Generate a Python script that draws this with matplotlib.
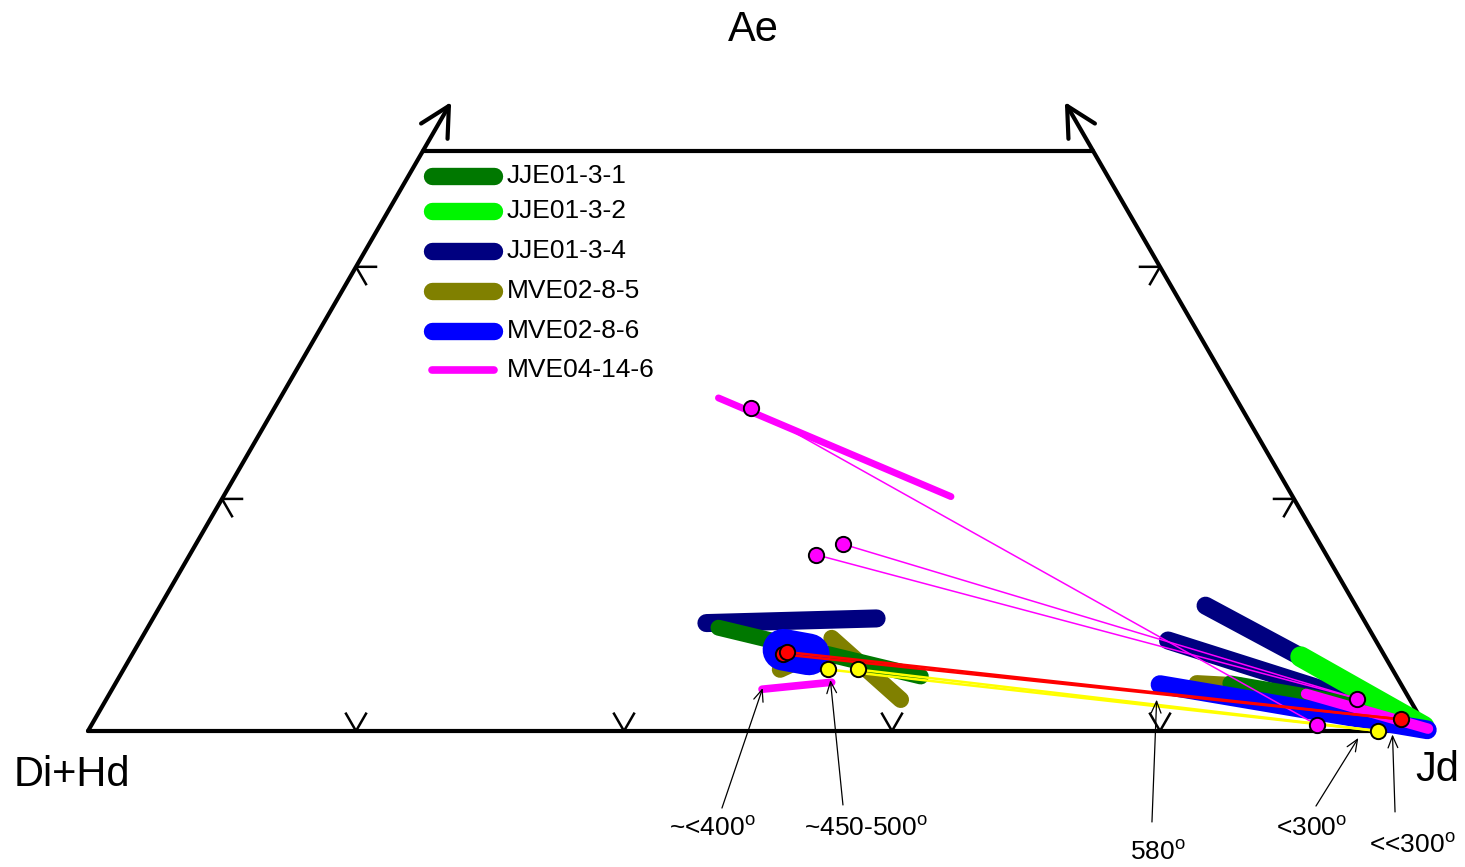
import numpy as np
import matplotlib
matplotlib.use('Agg')
import matplotlib.pyplot as plt

plt.rcParams['font.family'] = ['Liberation Sans', 'DejaVu Sans']
plt.rcParams['mathtext.fontset'] = 'custom'
plt.rcParams['mathtext.rm'] = 'Liberation Sans'

# pyroxene compositions as (Jd, Ae) in %, remainder is Di+Hd
samples = ['JJE01-3-1', 'JJE01-3-2', 'JJE01-3-4', 'MVE02-8-5', 'MVE02-8-6', 'MVE04-14-6']

# core -> rim zoning trends for each sample
jje01_3_1 = [[(42.6, 8.9), (59.8, 4.7)], [(83.2, 4.1), (97.1, 1.6)]]
jje01_3_2 = [[(87.3, 6.4), (99.5, 0.4)]]
jje01_3_4 = [[(41.5, 9.3), (54.0, 9.7)], [(78.0, 10.8), (87.3, 6.4)], [(76.7, 7.8), (96.7, 1.6)]]
mve02_8_5 = [[(51.5, 8.0), (59.3, 2.7)], [(49.0, 5.3), (50.1, 6.1)], [(80.7, 4.1), (84.0, 3.9)]]
mve02_8_6 = [[(48.4, 7.0), (50.5, 6.6)], [(78.0, 4.0), (99.9, 0.1)]]
mve04_14_6 = [[(32.7, 28.7), (54.3, 20.2)], [(48.5, 3.6), (53.4, 4.2)], [(89.3, 3.2), (99.9, 0.2)]]

# coexisting pairs (omphacite/aegirine-augite -> jadeite)
pink_pts = [(35.6, 27.8), (46.7, 15.2), (48.3, 16.1), (93.3, 2.8), (91.5, 0.5)]
red_pts = [(48.6, 6.6), (48.8, 6.8), (97.5, 1.0)]
yellow_pts = [(52.6, 5.3), (54.8, 5.3), (96.3, 0.0)]
pink_ties = [(0, 4), (1, 3), (2, 3)]
red_ties = [(0, 2), (1, 2)]
yellow_ties = [(0, 2), (1, 2)]

# temperature estimates
temp_labels = ['~<400$^{\\mathrm{o}}$', '~450-500$^{\\mathrm{o}}$', '580$^{\\mathrm{o}}$',
               '<300$^{\\mathrm{o}}$', '<<300$^{\\mathrm{o}}$']
temp_targets = [(48.5, 3.7), (53.2, 4.4), (78.4, 2.7), (95.1, -0.6), (97.5, -0.3)]

# styles
colors = {'JJE01-3-1': '#007800', 'JJE01-3-2': '#00f500', 'JJE01-3-4': '#000080',
          'MVE02-8-5': '#808000', 'MVE02-8-6': '#0000ff', 'MVE04-14-6': '#ff00ff'}
seg_lw = {'JJE01-3-1': [11.5, 11.5], 'JJE01-3-2': [15], 'JJE01-3-4': [13, 13, 13],
          'MVE02-8-5': [12, 12, 12], 'MVE02-8-6': [30, 13.5], 'MVE04-14-6': [5, 5.5, 7.5]}
trends = dict(zip(samples, [jje01_3_1, jje01_3_2, jje01_3_4, mve02_8_5, mve02_8_6, mve04_14_6]))
draw_order = ['JJE01-3-4', 'MVE02-8-5', 'JJE01-3-1', 'JJE01-3-2', 'MVE02-8-6', 'MVE04-14-6']


def tern(jd, ae):
    jd = np.asarray(jd, float) / 100.0
    ae = np.asarray(ae, float) / 100.0
    return jd + ae / 2.0, ae * np.sqrt(3) / 2.0


fig = plt.figure(figsize=(14.65, 8.67), dpi=100)
ax = fig.add_axes([0, 0, 1, 1])
ax.set_xlim(-88 / 1340, 1377 / 1340)
ax.set_ylim(-136 / 1340, 731 / 1340)
ax.axis('off')

# frame of the Q-Jd-Ae diagram, cut at Ae = 50
frame = dict(color='k', lw=3, solid_capstyle='round', zorder=2)
ax.plot(*tern([0, 100], [0, 0]), **frame)
ax.plot(*tern([0, 50], [50, 50]), **frame)
edge_arrow = dict(arrowstyle='->,head_length=1.05,head_width=0.55', lw=3, color='k',
                  shrinkA=0, shrinkB=0, mutation_scale=20, capstyle='round', joinstyle='round')
ax.annotate('', xy=tern(0, 54.2), xytext=tern(0, 0), arrowprops=edge_arrow, zorder=2)
ax.annotate('', xy=tern(45.8, 54.2), xytext=tern(100, 0), arrowprops=edge_arrow, zorder=2)

# chevron ticks every 20 %
arm = 20 / 1340
s3 = np.sqrt(3) / 2
tick = dict(color='k', lw=1.8, zorder=2)
for v in [20, 40, 60, 80]:
    x0, y0 = tern(v, 0)
    ax.plot([x0 - 0.5 * arm, x0, x0 + 0.5 * arm], [y0 + s3 * arm, y0, y0 + s3 * arm], **tick)
for v in [20, 40]:
    x0, y0 = tern(0, v)
    ax.plot([x0 + arm, x0, x0 + 0.5 * arm], [y0, y0, y0 - s3 * arm], **tick)
    x0, y0 = tern(100 - v, v)
    ax.plot([x0 - arm, x0, x0 - 0.5 * arm], [y0, y0, y0 - s3 * arm], **tick)

# zoning trends
for z, name in enumerate(draw_order):
    for seg, lw in zip(trends[name], seg_lw[name]):
        jd, ae = zip(*seg)
        ax.plot(*tern(jd, ae), color=colors[name], lw=lw, solid_capstyle='round', zorder=3 + z * 0.1)

# tie lines and pair points
for pts, ties, col, lw in [(pink_pts, pink_ties, '#ff00ff', 1.1),
                           (red_pts, red_ties, '#ff0000', 1.8),
                           (yellow_pts, yellow_ties, '#ffff00', 1.8)]:
    for a, b in ties:
        jd, ae = zip(pts[a], pts[b])
        ax.plot(*tern(jd, ae), color=col, lw=lw, zorder=4)
for pts, col in [(pink_pts, '#ff00ff'), (red_pts, '#ff0000'), (yellow_pts, '#ffff00')]:
    jd, ae = zip(*pts)
    ax.plot(*tern(jd, ae), 'o', ms=11, mfc=col, mec='k', mew=1.4, zorder=5)

# temperature arrows
text_xy = [(0.4657, -0.0724), (0.5806, -0.0724), (0.7985, -0.0903), (0.9134, -0.0724), (0.9881, -0.0851)]
tail_xy = [(0.4731, -0.0575), (0.5634, -0.0552), (0.794, -0.0679), (0.9164, -0.056), (0.9754, -0.0604)]
for lab, tgt, txy, tail in zip(temp_labels, temp_targets, text_xy, tail_xy):
    ax.annotate('', xy=tern(*tgt), xytext=tail,
                arrowprops=dict(arrowstyle='->,head_length=0.6,head_width=0.25', lw=0.9, color='k',
                                shrinkA=0, shrinkB=0, mutation_scale=14), zorder=6)
    ax.text(txy[0], txy[1], lab, fontsize=19, ha='center', va='center', zorder=6)

# end-member labels
ax.text(0.4963, 0.5231, 'Ae', fontsize=30, ha='center', va='center')
ax.text(-0.0119, -0.0328, 'Di+Hd', fontsize=30, ha='center', va='center')
ax.text(1.0067, -0.0291, 'Jd', fontsize=30, ha='center', va='center')

# legend
leg_y = [0.4142, 0.3881, 0.3582, 0.3284, 0.2985, 0.2694]
for name, y in zip(samples, leg_y):
    lw = 5.5 if name == 'MVE04-14-6' else 12.5
    ax.plot([0.2567, 0.303], [y, y], color=colors[name], lw=lw, solid_capstyle='round')
    ax.text(0.3127, y, name, fontsize=19, ha='left', va='center')

fig.savefig('out.png', dpi=100, facecolor='white')
